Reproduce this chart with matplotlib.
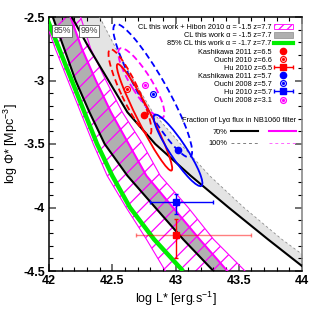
import numpy as np
import matplotlib
matplotlib.use("Agg")
import matplotlib.pyplot as plt
from matplotlib.patches import Ellipse, Patch
from matplotlib.lines import Line2D
from matplotlib.container import ErrorbarContainer
from matplotlib.legend_handler import HandlerTuple, HandlerErrorbar
from matplotlib.ticker import MultipleLocator, FormatStrFormatter

plt.rcParams["font.family"] = ["Liberation Sans", "DejaVu Sans"]
plt.rcParams["mathtext.fontset"] = "custom"
plt.rcParams["mathtext.rm"] = "Liberation Sans"
plt.rcParams["mathtext.it"] = "Liberation Sans:italic"
plt.rcParams["axes.unicode_minus"] = False
plt.rcParams["hatch.linewidth"] = 0.9

LOGPHI = [-2.5, -2.75, -3.0, -3.25, -3.5, -3.75, -4.0, -4.25, -4.5]

# contours, log L* at each LOGPHI row
GREEN_85 = [41.98, 42.08, 42.18, 42.28, 42.38, 42.50, 42.64, 42.83, 43.06]
HIBON_LEFT = [41.96, 42.05, 42.15, 42.25, 42.35, 42.46, 42.61, 42.77, 42.92]
BLACK_70 = [42.03, 42.12, 42.21, 42.32, 42.44, 42.62, 42.84, 43.06, 43.30]
MAGENTA_70 = [42.17, 42.26, 42.37, 42.49, 42.63, 42.77, 42.98, 43.19, 43.41]
HIBON_RIGHT = [42.25, 42.33, 42.45, 42.58, 42.74, 42.88, 43.10, 43.30, 43.55]
BLACK_OUT = [42.18, 42.32, 42.47, 42.62, 42.84, 43.12, 43.42, 43.73, 44.05]
GREY_100 = [42.40, 42.53, 42.67, 42.82, 43.04, 43.27, 43.54, 43.84, 44.18]

# literature confidence ellipses
ELL_NAMES = ["Ouchi 2008 z=5.7", "Ouchi 2008 z=3.1", "Ouchi 2010 z=6.6",
             "Kashikawa 2011 z=6.5", "Kashikawa 2011 z=5.7"]
ELL_X = [42.82, 42.73, 42.64, 42.755, 43.02]
ELL_Y = [-3.08, -3.02, -3.09, -3.29, -3.55]
ELL_LEN = [1.20, 0.64, 0.74, 0.94, 0.67]
ELL_WID = [0.22, 0.16, 0.14, 0.11, 0.13]
ELL_ANG = [-60.4, -58.0, -64.8, -63.0, -56.5]

# best-fit points
KASH65 = (42.75, -3.27)
KASH57 = (43.02, -3.545)
OUCHI66 = (42.62, -3.07)
OUCHI57 = (42.82, -3.11)
OUCHI31 = (42.76, -3.035)

# Hu 2010: z=6.5, z=5.7
HU_X = [43.0, 43.0]
HU_Y = [-4.22, -3.96]
HU_XLO = [42.69, 42.80]
HU_XHI = [43.60, 43.30]
HU_YLO = [-4.40, -4.05]
HU_YHI = [-4.09, -3.89]

RED, BLUE, MAG, GREEN = "#ff0000", "#0000ff", "#ff00ff", "#00ee00"
ELL_STYLE = {
    "Ouchi 2008 z=5.7": (BLUE, (0, (3.5, 2))),
    "Ouchi 2008 z=3.1": (MAG, (0, (3.5, 2))),
    "Ouchi 2010 z=6.6": (RED, (0, (3.5, 2))),
    "Kashikawa 2011 z=6.5": (RED, "-"),
    "Kashikawa 2011 z=5.7": (BLUE, "-"),
}

fig = plt.figure(figsize=(3.14, 3.14), dpi=100)
ax = fig.add_axes([49 / 314, 43 / 314, 253 / 314, 254 / 314])

# bands
ax.fill_betweenx(LOGPHI, BLACK_OUT, GREY_100, color="#e4e4e4", lw=0, zorder=1)
ax.fill_betweenx(LOGPHI, BLACK_70, MAGENTA_70, color="#b0b0b0", lw=0, zorder=1)
ax.fill_betweenx(LOGPHI, HIBON_LEFT, HIBON_RIGHT, facecolor="none",
                 edgecolor=MAG, hatch="//", lw=0, zorder=2)

# contour lines
ax.plot(HIBON_LEFT, LOGPHI, color=MAG, lw=0.8, zorder=3)
ax.plot(HIBON_RIGHT, LOGPHI, color=MAG, lw=0.8, zorder=3)
ax.plot(GREY_100, LOGPHI, color="0.55", lw=0.6, ls=(0, (3, 3)), zorder=3)
ax.plot(MAGENTA_70, LOGPHI, color=MAG, lw=1.5, zorder=3)
ax.plot(BLACK_70, LOGPHI, color="black", lw=1.5, zorder=4)
ax.plot(BLACK_OUT, LOGPHI, color="black", lw=1.5, zorder=4)
ax.plot(GREEN_85, LOGPHI, color=GREEN, lw=3.2, zorder=4, solid_capstyle="butt")

for name, x, y, ln, wd, ang in zip(ELL_NAMES, ELL_X, ELL_Y, ELL_LEN, ELL_WID, ELL_ANG):
    col, ls = ELL_STYLE[name]
    ax.add_patch(Ellipse((x, y), ln, wd, angle=ang, fill=False, ec=col,
                         ls=ls, lw=1.3, zorder=5))

# points
ax.plot(*KASH65, "o", color=RED, ms=4.5, zorder=6)
ax.plot(*KASH57, "o", color=BLUE, ms=4.5, zorder=6)
for (x, y), col in [(OUCHI66, RED), (OUCHI57, BLUE), (OUCHI31, MAG)]:
    ax.plot(x, y, "o", mfc="white", mec=col, mew=0.9, ms=4.2, zorder=6)
    ax.plot(x, y, "o", color=col, ms=1.3, zorder=7)

hx, hy = np.array(HU_X), np.array(HU_Y)
xerr = [hx - np.array(HU_XLO), np.array(HU_XHI) - hx]
yerr = [hy - np.array(HU_YLO), np.array(HU_YHI) - hy]
for i, col in enumerate([RED, BLUE]):
    ax.errorbar(hx[i], hy[i], xerr=[[xerr[0][i]], [xerr[1][i]]], fmt="none",
                ecolor=col, alpha=0.5 if i == 0 else 1, lw=1, capsize=1.5, zorder=6)
    ax.errorbar(hx[i], hy[i], yerr=[[yerr[0][i]], [yerr[1][i]]], fmt="s",
                color=col, ms=5, lw=1, capsize=1.5, zorder=7)

ax.text(42.105, -2.61, "85%", fontsize=6.3, color="0.25", ha="center", va="center",
        bbox=dict(boxstyle="square,pad=0.15", fc="white", ec="0.35", lw=0.6), zorder=8)
ax.text(42.32, -2.61, "99%", fontsize=6.3, color="0.25", ha="center", va="center",
        bbox=dict(boxstyle="square,pad=0.15", fc="white", ec="0.35", lw=0.6), zorder=8)

# legend 1
def dotted_circle(col):
    return (Line2D([], [], ls="none", marker="o", mfc="white", mec=col, mew=0.9, ms=4.2),
            Line2D([], [], ls="none", marker="o", color=col, ms=1.3))

hu65 = ax.errorbar([np.nan], [np.nan], xerr=[[0.1], [0.1]], fmt="s", color=RED,
                   ms=5, lw=1, capsize=1.5)
hu57 = ax.errorbar([np.nan], [np.nan], xerr=[[0.1], [0.1]], fmt="s", color=BLUE,
                   ms=5, lw=1, capsize=1.5)
handles = [
    Patch(facecolor="white", edgecolor=MAG, hatch="////", lw=0.6),
    Patch(facecolor="#b0b0b0", edgecolor="0.6", lw=0.6),
    Line2D([], [], color=GREEN, lw=3),
    Line2D([], [], ls="none", marker="o", color=RED, ms=4.5),
    dotted_circle(RED),
    hu65,
    Line2D([], [], ls="none", marker="o", color=BLUE, ms=4.5),
    dotted_circle(BLUE),
    hu57,
    dotted_circle(MAG),
]
labels = [
    "CL this work + Hibon 2010 \u03b1 = -1.5 z=7.7",
    "CL this work \u03b1 = -1.5 z=7.7",
    "85% CL this work \u03b1 = -1.7 z=7.7",
    "Kashikawa 2011 z=6.5",
    "Ouchi 2010 z=6.6",
    "Hu 2010 z=6.5",
    "Kashikawa 2011 z=5.7",
    "Ouchi 2008 z=5.7",
    "Hu 2010 z=5.7",
    "Ouchi 2008 z=3.1",
]
leg1 = ax.legend(handles, labels, loc="upper right", bbox_to_anchor=(0.964, 0.973),
                 markerfirst=False, frameon=False, fontsize=5.3, handlelength=2.6,
                 handleheight=0.8, handletextpad=0.3, labelspacing=0.1,
                 borderpad=0, borderaxespad=0,
                 handler_map={tuple: HandlerTuple(ndivide=1),
                              ErrorbarContainer: HandlerErrorbar(xerr_size=1.3)})
ax.add_artist(leg1)

l70 = (Line2D([], [], color="black", lw=1.5), Line2D([], [], color=MAG, lw=1.5))
l100 = (Line2D([], [], color="0.5", lw=0.7, ls=(0, (3, 3))),
        Line2D([], [], color="#ff66ff", lw=0.7, ls=(0, (3, 3))))
leg2 = ax.legend([l70, l100], ["70%", "100%"],
                 title="Fraction of Ly\u03b1 flux in NB1060 filter", title_fontsize=5.3,
                 loc="upper right", bbox_to_anchor=(0.975, 0.608), alignment="right",
                 markerfirst=False, frameon=False, fontsize=5.3, handlelength=8.8,
                 handletextpad=0.5, labelspacing=0.65, borderpad=0, borderaxespad=0,
                 handler_map={tuple: HandlerTuple(ndivide=None, pad=1.5)})

ax.set_xlim(42, 44)
ax.set_ylim(-4.5, -2.5)
ax.xaxis.set_major_locator(MultipleLocator(0.5))
ax.xaxis.set_minor_locator(MultipleLocator(0.1))
ax.yaxis.set_major_locator(MultipleLocator(0.5))
ax.yaxis.set_minor_locator(MultipleLocator(0.1))
ax.xaxis.set_major_formatter(FormatStrFormatter("%g"))
ax.yaxis.set_major_formatter(FormatStrFormatter("%g"))
ax.tick_params(which="both", direction="in", top=True, right=True, color="0.35")
ax.tick_params(which="major", length=5, width=1.2, pad=3, labelsize=9)
ax.tick_params(which="minor", length=3, width=0.8, color="black")
for lab in ax.get_xticklabels() + ax.get_yticklabels():
    lab.set_fontweight("bold")
for s in ax.spines.values():
    s.set_linewidth(1.1)
ax.spines["right"].set_color("0.5")

ax.set_xlabel("log L* [erg.s$^{-1}$]", fontsize=9, labelpad=2)
ax.set_ylabel("log \u03a6* [Mpc$^{-3}$]", fontsize=9, labelpad=2)

fig.savefig("out.png", dpi=100)
